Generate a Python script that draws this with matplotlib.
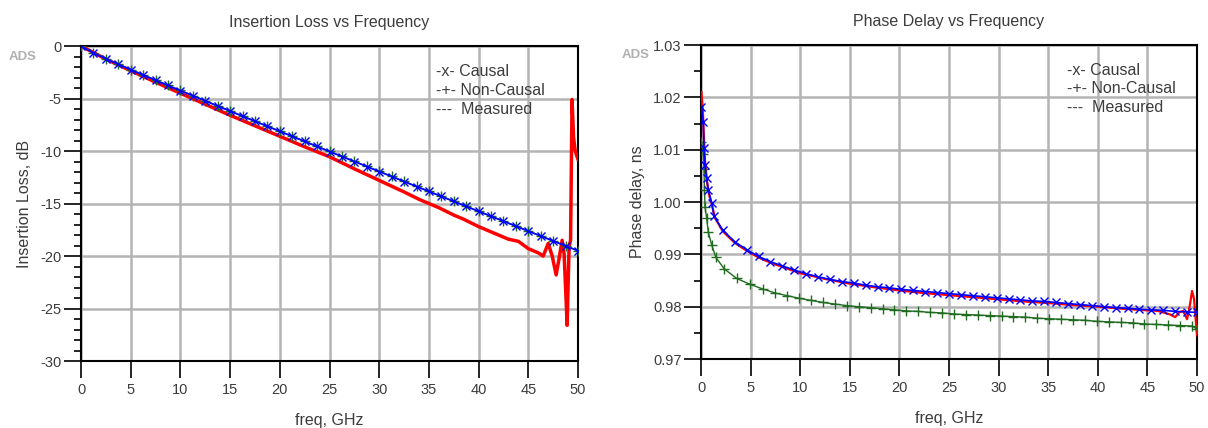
import matplotlib
matplotlib.use("Agg")
import matplotlib.pyplot as plt
from matplotlib.ticker import MultipleLocator

plt.rcParams['font.family'] = ['Liberation Sans', 'DejaVu Sans']

# ---------------- Insertion loss data ----------------
il_freq = [0, 1.25, 2.5, 3.75, 5, 6.25, 7.5, 8.75, 10, 11.25, 12.5, 13.75, 15, 16.25,
           17.5, 18.75, 20, 21.25, 22.5, 23.75, 25, 26.25, 27.5, 28.75, 30, 31.25,
           32.5, 33.75, 35, 36.25, 37.5, 38.75, 40, 41.25, 42.5, 43.75, 45, 46.25,
           47.5, 48.75, 50]
il_causal = [0, -0.68, -1.22, -1.74, -2.26, -2.76, -3.26, -3.76, -4.25, -4.74, -5.23,
             -5.72, -6.20, -6.69, -7.17, -7.65, -8.13, -8.61, -9.09, -9.57, -10.05,
             -10.53, -11.00, -11.48, -11.96, -12.43, -12.91, -13.38, -13.85, -14.33,
             -14.80, -15.27, -15.75, -16.22, -16.69, -17.16, -17.63, -18.10, -18.57,
             -19.04, -19.51]
il_noncausal = [0, -0.66, -1.20, -1.72, -2.24, -2.74, -3.24, -3.74, -4.23, -4.72, -5.21,
                -5.70, -6.18, -6.67, -7.15, -7.63, -8.11, -8.59, -9.07, -9.55, -10.03,
                -10.51, -10.98, -11.46, -11.94, -12.41, -12.89, -13.36, -13.83, -14.31,
                -14.78, -15.25, -15.73, -16.20, -16.67, -17.14, -17.61, -18.08, -18.55,
                -19.02, -19.49]
il_meas_freq = [0, 2.5, 5, 7.5, 10, 12.5, 15, 17.5, 20, 22.5, 25, 27.5, 30, 32.5, 34,
                35, 36, 37.5, 38.5, 40, 41, 42, 43, 44, 45, 45.5, 46, 46.5, 47, 47.4,
                47.8, 48.1, 48.4, 48.6, 48.8, 48.9, 49.1, 49.25, 49.4, 49.55, 49.7,
                49.85, 50]
il_measured = [0, -1.25, -2.35, -3.45, -4.5, -5.55, -6.6, -7.6, -8.6, -9.6, -10.55,
               -11.7, -12.8, -13.9, -14.6, -15.0, -15.4, -16.1, -16.5, -17.2, -17.6,
               -18.0, -18.4, -18.6, -19.3, -19.5, -19.7, -20.0, -18.8, -20.0, -21.8,
               -20.2, -18.5, -19.8, -24.2, -26.6, -19.1, -18.5, -5.1, -8.7, -9.9,
               -10.4, -10.8]

# ---------------- Phase delay data ----------------
pd_causal_freq = [0.05, 0.23, 0.3, 0.4, 0.57, 0.74, 1.08, 1.31, 2.2, 3.4, 4.6, 5.8, 7.0,
                  8.2, 9.4, 10.6, 11.8, 13.0, 14.2, 15.4, 16.6, 17.8, 19.0, 20.2, 21.4,
                  22.6, 23.8, 25.0, 26.2, 27.4, 28.6, 29.8, 31.0, 32.2, 33.4, 34.6,
                  35.8, 37.0, 38.2, 39.4, 40.6, 41.8, 43.0, 44.2, 45.4, 46.6, 47.8,
                  49.0, 50.0]
pd_causal = [1.0182, 1.0152, 1.0103, 1.0071, 1.0045, 1.0023, 0.9998, 0.9973, 0.9946,
             0.9924, 0.9909, 0.9896, 0.9886, 0.9878, 0.9870, 0.9863, 0.9857, 0.9852,
             0.9848, 0.9845, 0.9841, 0.9838, 0.9836, 0.9833, 0.9831, 0.9829, 0.9827,
             0.9825, 0.9823, 0.9821, 0.9819, 0.9817, 0.9815, 0.9813, 0.9811, 0.9810,
             0.9808, 0.9806, 0.9804, 0.9802, 0.9800, 0.9798, 0.9797, 0.9795, 0.9794,
             0.9793, 0.9791, 0.9790, 0.9789]
pd_noncausal_freq = [0.05, 0.23, 0.3, 0.35, 0.4, 0.57, 0.74, 1.08, 1.5, 2.35, 3.6, 4.9,
                     6.2, 7.5, 8.7, 9.9, 11.1, 12.3, 13.5, 14.7, 15.9, 17.1, 18.3, 19.5,
                     20.7, 21.9, 23.1, 24.3, 25.5, 26.7, 27.9, 29.1, 30.3, 31.5, 32.7,
                     33.9, 35.1, 36.3, 37.5, 38.7, 39.9, 41.1, 42.3, 43.5, 44.7, 45.9,
                     47.1, 48.3, 49.5, 50.0]
pd_noncausal = [1.0115, 1.0092, 1.0064, 1.0023, 0.9991, 0.9969, 0.9942, 0.9918, 0.9894,
                0.9872, 0.9854, 0.9843, 0.9834, 0.9826, 0.9821, 0.9816, 0.9812, 0.9808,
                0.9805, 0.9802, 0.9800, 0.9798, 0.9796, 0.9794, 0.9792, 0.9791, 0.9789,
                0.9788, 0.9786, 0.9785, 0.9784, 0.9783, 0.9782, 0.9781, 0.9780, 0.9778,
                0.9777, 0.9776, 0.9775, 0.9774, 0.9772, 0.9771, 0.9770, 0.9769, 0.9767,
                0.9766, 0.9765, 0.9764, 0.9763, 0.9757]
pd_meas_freq = [0.05, 0.2, 0.3, 0.4, 0.6, 0.8, 1.1, 1.4, 2.2, 3.4, 4.6, 5.8, 7.0, 8.2, 10,
                12.5, 15, 17.5, 20, 22.5, 25, 27.5, 30, 32.5, 35, 37.5, 40, 42.5, 45, 46,
                46.8, 47.3, 47.8, 48.2, 48.6, 49.0, 49.3, 49.5, 49.7, 49.85, 50]
pd_measured = [1.021, 1.017, 1.012, 1.008, 1.004, 1.0015, 0.9995, 0.997, 0.9944, 0.9922,
               0.9907, 0.9894, 0.9884, 0.9876, 0.9864, 0.9853, 0.9844, 0.9837, 0.9831,
               0.9826, 0.9822, 0.9818, 0.9814, 0.9810, 0.9807, 0.9803, 0.9800, 0.9796,
               0.9793, 0.9792, 0.9788, 0.9785, 0.9780, 0.9789, 0.9792, 0.9776, 0.9805,
               0.9830, 0.9815, 0.9780, 0.9745]

x_ticks = [0, 5, 10, 15, 20, 25, 30, 35, 40, 45, 50]
legend_lines = ["-x- Causal", "-+- Non-Causal", "---  Measured"]

TXT = '#3c3c3c'
BLUE = '#0000ff'
GREEN = '#1f6b1f'
RED = '#ff0000'

fig = plt.figure(figsize=(12.08, 4.28), dpi=100)
ax1 = fig.add_axes([0.0671, 0.1565, 0.4114, 0.736])
ax2 = fig.add_axes([0.5803, 0.1612, 0.4106, 0.7336])


def style(ax, ymin, ymax, ymaj, ymin_step, fmt):
    ax.set_xlim(0, 50)
    ax.set_ylim(ymin, ymax)
    ax.set_xticks(x_ticks)
    ax.yaxis.set_major_locator(MultipleLocator(ymaj))
    ax.yaxis.set_minor_locator(MultipleLocator(ymin_step))
    ax.yaxis.set_major_formatter(matplotlib.ticker.FormatStrFormatter(fmt))
    ax.grid(True, which='major', color='#b4b4b4', linewidth=1.8)
    ax.set_axisbelow(True)
    for s in ax.spines.values():
        s.set_color('black')
        s.set_linewidth(1.5)
    ax.tick_params(axis='both', which='major', direction='out', length=12, width=1.2,
                   color='black', labelsize=10.5, labelcolor=TXT, pad=2)
    ax.tick_params(axis='y', which='minor', direction='out', length=5, width=1.2,
                   color='black')
    ax.tick_params(axis='x', which='major', pad=4)


style(ax1, -30, 0, 5, 1, '%g')
style(ax2, 0.97, 1.03, 0.01, 0.005, '%.2f')

# Insertion loss
ax1.plot(il_meas_freq, il_measured, color=RED, linewidth=2.5, zorder=3)
ax1.plot(il_freq, il_noncausal, color=GREEN, linewidth=1.0, marker='+',
         markersize=6.5, markeredgewidth=1.0, zorder=4)
ax1.plot(il_freq, il_causal, color=BLUE, linewidth=1.2, marker='x',
         markersize=5.5, markeredgewidth=1.0, zorder=5)

# Phase delay
ax2.plot(pd_meas_freq, pd_measured, color=RED, linewidth=1.6, zorder=3)
ax2.plot(pd_noncausal_freq, pd_noncausal, color=GREEN, linewidth=1.0, marker='+',
         markersize=6.5, markeredgewidth=1.0, zorder=4)
ax2.plot(pd_causal_freq, pd_causal, color=BLUE, linewidth=1.2, marker='x',
         markersize=5.5, markeredgewidth=1.0, zorder=5)

ax1.set_title("Insertion Loss vs Frequency", fontsize=11.5, color=TXT, pad=14)
ax2.set_title("Phase Delay vs Frequency", fontsize=11.5, color=TXT, pad=14)
ax1.set_ylabel("Insertion Loss, dB", fontsize=11.5, color=TXT, labelpad=6)
ax2.set_ylabel("Phase delay, ns", fontsize=11.5, color=TXT, labelpad=6)
ax1.set_xlabel("freq, GHz", fontsize=11.5, color=TXT, labelpad=11)
ax2.set_xlabel("freq, GHz", fontsize=11.5, color=TXT, labelpad=11)

for ax, xpos in ((ax1, 0.715), (ax2, 0.737)):
    for i, t in enumerate(legend_lines):
        ax.text(xpos, 0.92 - i * 0.06, t, transform=ax.transAxes, fontsize=11.5,
                color=TXT, va='center', ha='left', zorder=6)

fig.text(9 / 1208, 1 - 57 / 428, "ADS", fontsize=9.5, fontweight='bold',
         color='#b0b0b0', va='center', ha='left')
fig.text(622 / 1208, 1 - 55 / 428, "ADS", fontsize=9.5, fontweight='bold',
         color='#b0b0b0', va='center', ha='left')

fig.savefig("out.png", dpi=100, facecolor='white')
